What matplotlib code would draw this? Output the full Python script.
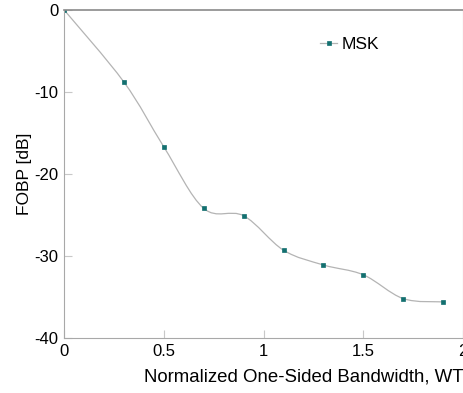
import matplotlib
matplotlib.use('Agg')
from matplotlib import pyplot as plt
from matplotlib.path import Path
from matplotlib.patches import PathPatch
from matplotlib.lines import Line2D

plt.rcParams['font.family'] = ['Liberation Sans', 'DejaVu Sans']
plt.rcParams['axes.unicode_minus'] = False

bandwidth = [0.0, 0.3, 0.5, 0.7, 0.9, 1.1, 1.3, 1.5, 1.7, 1.9]
fobp_msk = [0.0, -8.8, -16.7, -24.2, -25.1, -29.3, -31.1, -32.3, -35.2, -35.6]
xticks = [0, 0.5, 1, 1.5, 2]
xticklabels = ['0', '0.5', '1', '1.5', '2']
yticks = [-40, -30, -20, -10, 0]

line_col = '#b4b4b4'
mark_col = '#137070'


def smoothPath(xs, ys):
    # catmull-rom through the points, as cubic bezier segments
    verts = [(xs[0], ys[0])]
    codes = [Path.MOVETO]
    n = len(xs)
    for i in range(n - 1):
        x0, y0 = (xs[i - 1], ys[i - 1]) if i > 0 else (xs[i], ys[i])
        x1, y1 = xs[i], ys[i]
        x2, y2 = xs[i + 1], ys[i + 1]
        x3, y3 = (xs[i + 2], ys[i + 2]) if i + 2 < n else (x2, y2)
        c1 = (x1 + (x2 - x0) / 6, y1 + (y2 - y0) / 6)
        c2 = (x2 - (x3 - x1) / 6, y2 - (y3 - y1) / 6)
        verts += [c1, c2, (x2, y2)]
        codes += [Path.CURVE4] * 3
    return Path(verts, codes)


fig = plt.figure(figsize=(4.64, 3.93), dpi=100)
ax = fig.add_axes([0.138, 0.14, 0.86, 0.835])

ax.add_patch(PathPatch(smoothPath(bandwidth, fobp_msk), facecolor='none',
                       edgecolor=line_col, lw=0.9))
ax.plot(bandwidth, fobp_msk, ls='none', marker='s', ms=2.4, mew=0.5,
        color=mark_col)

ax.set_xlim(0, 2)
ax.set_ylim(-40, 0)
ax.set_xticks(xticks)
ax.set_xticklabels(xticklabels)
ax.set_yticks(yticks)
ax.tick_params(direction='in', length=6, width=0.8, color='#c8c8c8',
               labelsize=12, pad=4)
for s in ['left', 'bottom', 'right']:
    ax.spines[s].set_color('#a8a8a8')
    ax.spines[s].set_linewidth(0.8)
ax.spines['top'].set_color('#8a8a8a')
ax.spines['top'].set_linewidth(1.2)

ax.set_xlabel('Normalized One-Sided Bandwidth, WT', fontsize=13.4, loc='right',
              labelpad=7)
ax.set_ylabel('FOBP [dB]', fontsize=12.5, labelpad=2)

h = Line2D([], [], color=line_col, lw=0.9, marker='s', ms=2.4, mew=0.5,
           markerfacecolor=mark_col, markeredgecolor=mark_col)
ax.legend([h], ['MSK'], loc='upper left', bbox_to_anchor=(0.603, 0.965),
          frameon=False, fontsize=12.5, handlelength=0.95, handletextpad=0.3)

fig.savefig('out.png', dpi=100)
